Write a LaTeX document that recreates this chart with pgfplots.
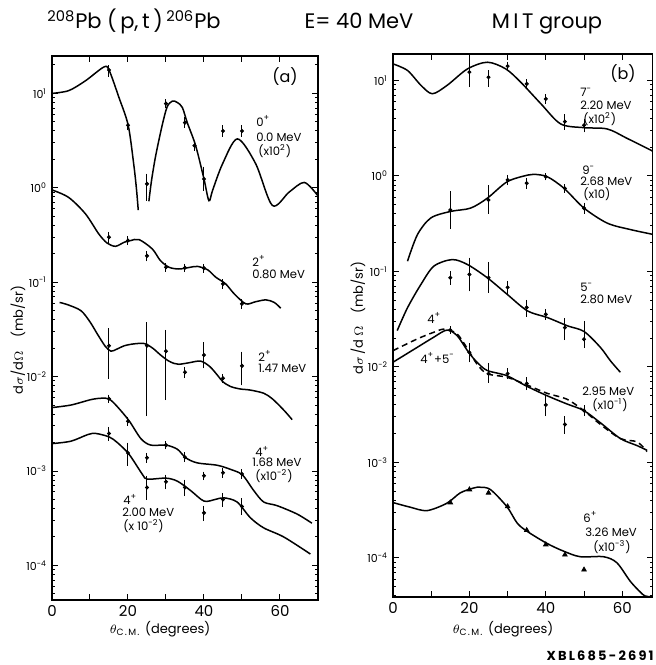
\documentclass[border=0pt]{standalone}
\usepackage{pgfplots}
\pgfplotsset{compat=1.18}
\usepackage{fontspec}
\setmainfont{Poppins}
\pgfplotsset{
  cur/.style={black, line width=0.75pt, smooth, no markers},
  dsh/.style={black, line width=0.75pt, smooth, no markers, dash pattern=on 3pt off 2pt},
  dat/.style={only marks, mark=*, mark size=0.8pt, black,
    error bars/y dir=both, error bars/y explicit,
    error bars/error mark options={black, mark size=1pt, line width=0.5pt},
    error bars/error bar style={line width=0.5pt}},
}
\begin{document}
\begin{tikzpicture}
\useasboundingbox (0,0) rectangle (327.5pt,332.5pt);
% ---------------- panel (a) ----------------
\begin{axis}[ymode=log, scale only axis, at={(26pt,32.5pt)}, anchor=south west,
  width=133pt, height=272pt, xmin=0, xmax=70, ymin=4.3e-5, ymax=24.9,
  axis line style={line width=0.7pt},
  tick align=inside, major tick length=3pt, minor tick length=1.6pt,
  every tick/.style={black, line width=0.5pt},
  ytick={1e-4,1e-3,1e-2,1e-1,1,10},
  yticklabels={10\textsuperscript{-4},10\textsuperscript{-3},10\textsuperscript{-2},10\textsuperscript{-1},10\textsuperscript{0},10\textsuperscript{1}},
  minor ytick={2e-5,3e-5,4e-5,5e-5,6e-5,7e-5,8e-5,9e-5,2e-4,3e-4,4e-4,5e-4,6e-4,7e-4,8e-4,9e-4,0.002,0.003,0.004,0.005,0.006,0.007,0.008,0.009,0.02,0.03,0.04,0.05,0.06,0.07,0.08,0.09,0.2,0.3,0.4,0.5,0.6,0.7,0.8,0.9,2,3,4,5,6,7,8,9,20},
  xticklabel style={font=\fontsize{7.5}{8}\selectfont, yshift=1pt},
  yticklabel style={font=\fontsize{5.5}{6}\selectfont, xshift=1pt},
  xtick={0,10,...,70}, xticklabels={0,,20,,40,,60,,}]
% 0+ 0.0 MeV (x10^2)
\addplot[cur] coordinates {(0,10) (4.4,10.7) (8.8,13.6) (13.6,19) (15,17.7) (17.6,9.1) (20.05,4.6) (21.5,1.79) (22.2,1.0) (22.7,0.58)};
\addplot[cur] coordinates {(25.5,0.72) (26.2,1.2) (27.3,2.2) (29.0,4.6) (30.3,7.2) (31.7,8.3) (33,8.0) (34.3,7.1) (35.6,4.9) (37.8,2.8) (40.0,1.24) (41.3,0.73) (42.3,0.95) (44.9,1.8) (48.8,3.3) (53.6,1.8) (58.0,0.65) (62.4,0.9) (66.4,1.14) (69.9,0.83)};
\addplot[dat] coordinates {(15,17.7) += (0,1.3) -= (0,2.0) (20,4.6) +- (0,0.3) (25,1.1) += (0,0.25) -= (0,0.33) (30,7.8) +- (0,0.5) (35,4.9) +- (0,0.4) (37.5,2.8) +- (0,0.2) (40,1.24) += (0,0.36) -= (0,0.26) (45,4.0) += (0,0.4) -= (0,0.34) (50,4.0) += (0,0.4) -= (0,0.34)};
% 2+ 0.80 MeV
\addplot[cur] coordinates {(0,0.95) (4.4,0.79) (8.8,0.53) (12.3,0.325) (14.5,0.26) (16.7,0.24) (19,0.265) (20.7,0.276) (22.9,0.283) (26.4,0.225) (28.5,0.17) (30.8,0.144) (33.4,0.138) (36,0.143) (38.3,0.147) (41,0.135) (43.1,0.113) (45.7,0.096) (48,0.075) (51.0,0.059) (53.5,0.062) (56.3,0.065) (58.5,0.061) (60.2,0.053)};
\addplot[dat] coordinates {(15,0.3) +- (0,0.025) (20,0.276) +- (0,0.015) (25,0.19) +- (0,0.015) (30,0.144) +- (0,0.008) (35,0.142) +- (0,0.008) (40,0.141) +- (0,0.008) (45,0.096) +- (0,0.006) (50,0.059) +- (0,0.004)};
% 2+ 1.47 MeV
\addplot[cur] coordinates {(2,0.061) (4,0.058) (7.6,0.05) (10,0.038) (12,0.028) (14,0.021) (15.5,0.0186) (17,0.0195) (19,0.0212) (21.5,0.0222) (24.3,0.0224) (26.5,0.02) (28.6,0.0169) (30.5,0.0148) (32.1,0.0138) (33.4,0.0135) (36,0.014) (39.1,0.0146) (41.5,0.0128) (43.5,0.0104) (45,0.0088) (47,0.00785) (49.5,0.0074) (52.2,0.0072) (55.7,0.00667) (57.8,0.0059) (59.7,0.005) (61.5,0.0042) (63.2,0.0035)};
\addplot[dat] coordinates {(15,0.0212) += (0,0.0098) -= (0,0.0112) (25,0.0213) += (0,0.0147) -= (0,0.0173) (30,0.0186) += (0,0.0112) -= (0,0.0127) (35,0.0111) +- (0,0.001) (40,0.0169) += (0,0.005) -= (0,0.0041) (45,0.0096) +- (0,0.0006) (50,0.013) +- (0,0.0045)};
% 4+ 1.68 MeV (x10^-2)
\addplot[cur] coordinates {(0,0.0047) (5,0.005) (10.2,0.0057) (12.9,0.0059) (15,0.0058) (17.2,0.0048) (20.3,0.0034) (23.4,0.0022) (26,0.00188) (30,0.00188) (33,0.0017) (35.2,0.00138) (38.2,0.00122) (43.5,0.00115) (47,0.00104) (50.1,0.00091) (53.1,0.00062) (55.7,0.00047) (59.2,0.00043) (64.5,0.00035) (68.4,0.00028)};
\addplot[dat] coordinates {(15,0.00582) +- (0,0.0003) (20,0.00336) +- (0,0.0002) (25,0.00138) +- (0,0.0001) (30,0.00188) +- (0,0.0001) (35,0.0014) +- (0,0.0001) (40,0.00089) +- (0,0.00005) (45,0.00096) +- (0,0.00007) (50,0.00093) +- (0,0.00006)};
% 4+ 2.00 MeV (x10^-2)
\addplot[cur] coordinates {(0,0.00195) (5,0.00207) (9.4,0.00243) (11.5,0.0025) (15,0.0023) (17.2,0.002) (20.3,0.0015) (23.8,0.00092) (25.1,0.00082) (30,0.00084) (33,0.00078) (36.5,0.00062) (40,0.00048) (43,0.0005) (45.2,0.00052) (48.7,0.00047) (52.2,0.00032) (55.7,0.00025) (61,0.0002) (68,0.000132)};
\addplot[dat] coordinates {(15,0.0025) +- (0,0.0003) (20,0.00155) +- (0,0.00035) (25,0.00067) += (0,0.00018) -= (0,0.00015) (30,0.00077) +- (0,0.0001) (35,0.00067) +- (0,0.0001) (40,0.00036) +- (0,0.00005) (45,0.0005) +- (0,0.00006) (50,0.00042) += (0,0.00007) -= (0,0.00006)};
\end{axis}
% ---------------- panel (b) ----------------
\begin{axis}[ymode=log, scale only axis, at={(196.5pt,34pt)}, anchor=south west,
  width=129.9pt, height=271.5pt, xmin=0, xmax=68, ymin=3.9e-5, ymax=18.9,
  axis line style={line width=0.7pt},
  tick align=inside, major tick length=3pt, minor tick length=1.6pt,
  every tick/.style={black, line width=0.5pt},
  ytick={1e-4,1e-3,1e-2,1e-1,1,10},
  yticklabels={10\textsuperscript{-4},10\textsuperscript{-3},10\textsuperscript{-2},10\textsuperscript{-1},10\textsuperscript{0},10\textsuperscript{1}},
  minor ytick={2e-5,3e-5,4e-5,5e-5,6e-5,7e-5,8e-5,9e-5,2e-4,3e-4,4e-4,5e-4,6e-4,7e-4,8e-4,9e-4,0.002,0.003,0.004,0.005,0.006,0.007,0.008,0.009,0.02,0.03,0.04,0.05,0.06,0.07,0.08,0.09,0.2,0.3,0.4,0.5,0.6,0.7,0.8,0.9,2,3,4,5,6,7,8,9},
  xticklabel style={font=\fontsize{7.5}{8}\selectfont, yshift=1pt},
  yticklabel style={font=\fontsize{5.5}{6}\selectfont, xshift=1pt},
  xtick={0,10,...,60}, xticklabels={0,,20,,40,,60}]
% 7- 2.20 MeV (x10^2)
\addplot[cur] coordinates {(0,14.9) (3.8,12.7) (7.3,8.9) (10.3,7.25) (14.2,8.9) (19.5,13.2) (24.7,15.5) (29.5,13.2) (33.4,9.6) (38.7,5.7) (43.9,3.5) (50,3.2) (56.1,3.1) (61.3,2.47) (68.3,1.79)};
\addplot[dat] coordinates {(20,12.2) +- (0,3.3) (25,10.8) += (0,1.4) -= (0,1.8) (30,14.1) +- (0,0.8) (35,9.2) +- (0,0.6) (40,6.4) +- (0,0.4) (45,3.7) +- (0,0.5) (50,3.4) +- (0,0.4)};
% 9- 2.68 MeV (x10)
\addplot[cur] coordinates {(3.8,0.128) (6.4,0.243) (9.9,0.363) (15.1,0.425) (20.3,0.46) (24.7,0.585) (29.9,0.87) (35.2,1.02) (36.9,1.04) (40.4,0.98) (44.8,0.74) (50,0.46) (56.1,0.32) (62.2,0.274) (68.3,0.243)};
\addplot[dat] coordinates {(15,0.44) += (0,0.22) -= (0,0.145) (25,0.56) += (0,0.2) -= (0,0.14) (30,0.91) +- (0,0.07) (35,0.84) +- (0,0.07) (40,0.98) +- (0,0.04) (45,0.74) +- (0,0.04) (50,0.46) +- (0,0.04)};
% 5- 2.80 MeV
\addplot[cur] coordinates {(1.1,0.024) (3.8,0.0417) (7.3,0.073) (10.7,0.1136) (15.5,0.133) (19.5,0.118) (24.7,0.0857) (29.9,0.0575) (35.2,0.0386) (40.4,0.0329) (45.7,0.0269) (50,0.0235) (54.3,0.016) (56.9,0.0116) (59.5,0.0088)};
\addplot[dat] coordinates {(15,0.086) +- (0,0.01) (20,0.093) += (0,0.04) -= (0,0.028) (25,0.086) += (0,0.034) -= (0,0.023) (30,0.068) +- (0,0.008) (35,0.042) += (0,0.006) -= (0,0.007) (40,0.0356) +- (0,0.003) (45,0.0258) += (0,0.005) -= (0,0.0058) (50,0.0195) += (0,0.0095) -= (0,0.003)};
% 4+ + 5- 2.95 MeV (x10^-1)
\addplot[cur] coordinates {(0,0.0112) (6.3,0.016) (10.6,0.0204) (14.1,0.0243) (16.8,0.0212) (19.8,0.0142) (22,0.0112) (24.6,0.0092) (29.8,0.0081) (34.6,0.0064) (40.3,0.005) (45.5,0.0041) (49.9,0.0035) (54.3,0.0026) (59.5,0.00178) (63.9,0.0015) (66.5,0.00134)};
\addplot[dsh] coordinates {(0,0.0148) (6.3,0.0196) (10.6,0.023) (13.5,0.0249) (16.8,0.0221) (19.8,0.0148) (22,0.0107) (24.6,0.0085) (29.8,0.0078) (34.6,0.0066) (40.3,0.0053) (45.5,0.0046) (49.9,0.0035) (54.3,0.0025) (59.5,0.00178) (63.9,0.00164) (66.5,0.0013)};
\addplot[dat] coordinates {(15,0.0243) +- (0,0.001) (20,0.0142) += (0,0.0028) -= (0,0.0025) (25,0.0085) += (0,0.002) -= (0,0.0013) (30,0.0085) +- (0,0.0007) (35,0.0067) +- (0,0.0007) (40,0.004) +- (0,0.0008) (45,0.0025) +- (0,0.0004) (50,0.0035) +- (0,0.0003)};
% 6+ 3.26 MeV (x10^-3)
\addplot[cur] coordinates {(0,0.00038) (4.5,0.00034) (8.9,0.000313) (14.1,0.000374) (17.6,0.00048) (21.1,0.00054) (22.8,0.00055) (25.5,0.00052) (29.8,0.000345) (32.5,0.000232) (35.1,0.00019) (40.3,0.000142) (44.6,0.000118) (49,0.000103) (55.1,0.000103) (58.6,0.000089) (62.1,0.000057) (64.7,0.000044) (66,0.00004) (68,0.000039)};
\addplot[only marks, mark=triangle*, mark size=1.3pt, black] coordinates {(15,0.00038) (20,0.00052) (25,0.00048) (30,0.000346) (35,0.000195) (40,0.000138) (45,0.000108) (50,0.0000753)};
\end{axis}
% ---------------- texts (pixel coordinates) ----------------
\begin{scope}[x=0.5pt, y=-0.5pt, shift={(0pt,332.5pt)}]
\begin{scope}[every node/.style={font=\fontsize{10.5}{12}\selectfont, anchor=base, inner sep=0pt}]
\node at (134,29) {\textsuperscript{208}Pb (\,p,\,t\,)\,\textsuperscript{206}Pb};
\node at (359,29) {E= 40 MeV};
\node at (547,29) {M\,I\,T group};
\end{scope}
\node[anchor=base east, inner sep=0pt, font=\bfseries\fontsize{6.5}{7}\selectfont] at (654,661) {X\,B\,L\,6\,8\,5\,-\,2\,6\,9\,1};
\begin{scope}[every node/.style={font=\fontsize{6.5}{7}\selectfont, inner sep=0pt}]
\node[rotate=90] at (18,340) {d$\sigma$/d$\Omega$\quad(mb/sr)};
\node[rotate=90] at (358,318) {d$\sigma$\,/d$\,\Omega$\quad(mb/sr)};
\node at (160,629) {$\theta_{\mathrm{C.M.}}$ (degrees)};
\node at (503,629) {$\theta_{\mathrm{C.M.}}$ (degrees)};
\end{scope}
\begin{scope}[every node/.style={font=\fontsize{8}{9}\selectfont, inner sep=0pt}]
\node at (285,77) {(a)};
\node at (623,74) {(b)};
\end{scope}
\begin{scope}[every node/.style={font=\fontsize{5.8}{7}\selectfont, anchor=west, inner sep=0pt}]
\node at (256,121) {0\textsuperscript{+}};
\node at (256,137) {0.0 MeV};
\node at (258,151) {(x10\textsuperscript{2})};
\node at (252,261) {2\textsuperscript{+}};
\node at (252,274) {0.80 MeV};
\node at (258,356) {2\textsuperscript{+}};
\node at (258,368) {1.47 MeV};
\node at (255,451) {4\textsuperscript{+}};
\node at (252,462) {1.68 MeV};
\node at (255,476) {(x10\textsuperscript{-2})};
\node at (123,499) {4\textsuperscript{+}};
\node at (122,512) {2.00 MeV};
\node at (123,526) {(x 10\textsuperscript{-2})};
\node at (580,92) {7\textsuperscript{-}};
\node at (580,105) {2.20 MeV};
\node at (583,119) {(x10\textsuperscript{2})};
\node at (582,170) {9\textsuperscript{-}};
\node at (580,181) {2.68 MeV};
\node at (583,194) {(x10)};
\node at (580,287) {5\textsuperscript{-}};
\node at (580,299) {2.80 MeV};
\node at (427,318) {4\textsuperscript{+}};
\node at (420,358) {4\textsuperscript{+}+5\textsuperscript{-}};
\node at (582,391) {2.95 MeV};
\node at (592,405) {(x10\textsuperscript{-1})};
\node at (583,517) {6\textsuperscript{+}};
\node at (585,532) {3.26 MeV};
\node at (593,547) {(x10\textsuperscript{-3})};
\end{scope}
\end{scope}
\end{tikzpicture}
\end{document}
